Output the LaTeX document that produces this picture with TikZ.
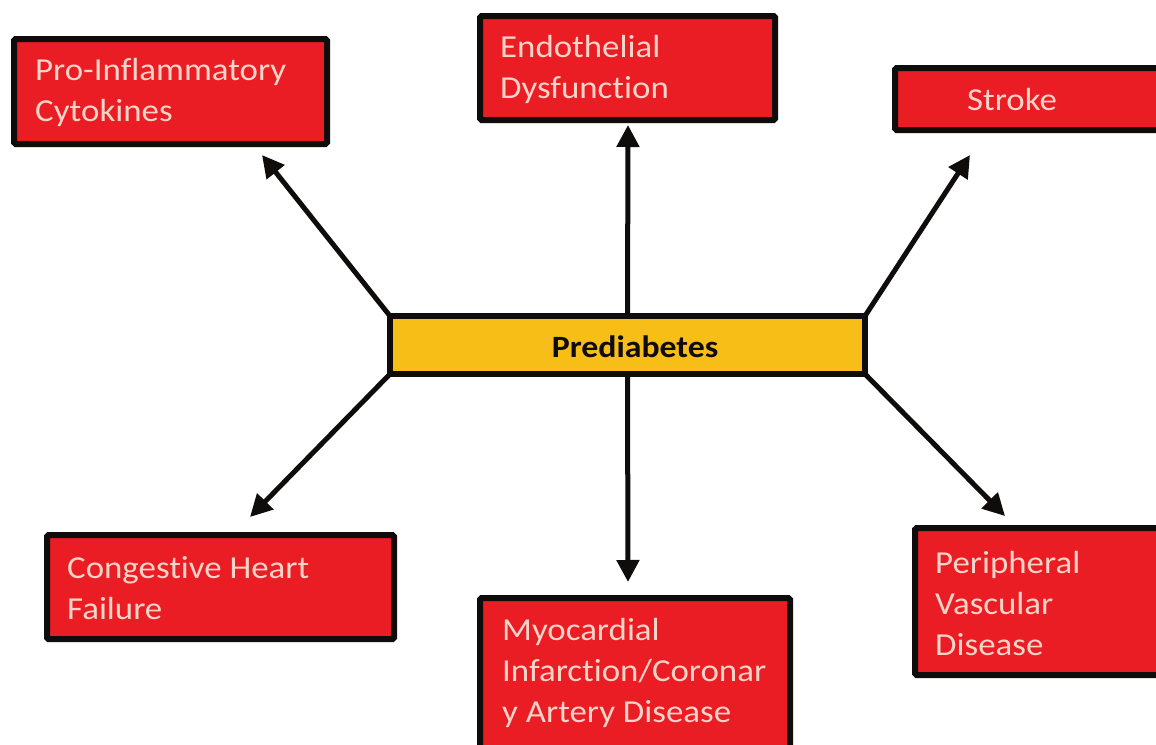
\documentclass[tikz,border=0pt]{standalone}
\usepackage{fontspec}
\setmainfont{Carlito}
\newfontfamily\widefont[FakeStretch=1.09,Ligatures=NoCommon]{Carlito}
\usetikzlibrary{arrows.meta}
\definecolor{boxred}{RGB}{234,28,36}
\definecolor{boxyellow}{RGB}{246,190,22}
\definecolor{labelpink}{RGB}{250,212,200}
\definecolor{edgeblack}{RGB}{15,12,12}
\tikzset{
  redbox/.style={draw=edgeblack, fill=boxred, line width=6pt, rounded corners=1.5pt, inner sep=0pt, outer sep=0pt},
  yellowbox/.style={draw=edgeblack, fill=boxyellow, line width=6pt, inner sep=0pt, outer sep=0pt},
  redlabel/.style={text=labelpink, font=\widefont\fontsize{32}{41}\selectfont, align=left, anchor=west, inner sep=0pt},
  arrowline/.style={draw=edgeblack, line width=5pt, -{Triangle[length=22pt,width=22pt]}}
}
\begin{document}
\begin{tikzpicture}[x=1pt,y=-1pt]
\useasboundingbox (0,0) rectangle (1156,744);
\clip (0,0) rectangle (1156,744);
\fill[white] (0,0) rectangle (1156,744);
% boxes
\node[redbox, minimum width=313pt, minimum height=105pt] (pro) at (170.5,91.5) {};
\node[redlabel] (protext) at (35,92) {Pro-Inflammatory\\Cytokines};
\node[redbox, minimum width=295pt, minimum height=104pt] (endo) at (627.5,68) {};
\node[redlabel] (endotext) at (500,69) {Endothelial\\Dysfunction};
\node[redbox, minimum width=290pt, minimum height=62pt] (stroke) at (1040,99) {};
\node[redlabel, anchor=center] (stroketext) at (1012,100) {Stroke};
\node[yellowbox, minimum width=475pt, minimum height=58pt] (pd) at (627.5,345) {};
\node[text=edgeblack, font=\widefont\fontsize{31}{35}\selectfont\bfseries, inner sep=0pt] (pdtext) at (635,347) {Prediabetes};
\node[redbox, minimum width=347pt, minimum height=104pt] (chf) at (220.5,587) {};
\node[redlabel] (chftext) at (67,588) {Congestive Heart\\Failure};
\node[redbox, minimum width=310pt, minimum height=152pt] (mi) at (635,674) {};
\node[redlabel] (mitext) at (502,673) {Myocardial\\Infarction/Coronar\\y Artery Disease};
\node[redbox, minimum width=260pt, minimum height=147pt] (pvd) at (1045,601.5) {};
\node[redlabel] (pvdtext) at (935,603) {Peripheral\\Vascular\\Disease};
% arrow tips
\coordinate (tpro) at (262,155);
\coordinate (tendo) at (628,125);
\coordinate (tstroke) at (970,155);
\coordinate (tchf) at (250,517);
\coordinate (tmi) at (628,582);
\coordinate (tpvd) at (1005,516);
% arrows
\draw[arrowline] (pd.north west) -- (tpro);
\draw[arrowline] (pd.north) -- (tendo);
\draw[arrowline] (pd.north east) -- (tstroke);
\draw[arrowline] (pd.south west) -- (tchf);
\draw[arrowline] (pd.south) -- (tmi);
\draw[arrowline] (pd.south east) -- (tpvd);
\end{tikzpicture}
\end{document}
